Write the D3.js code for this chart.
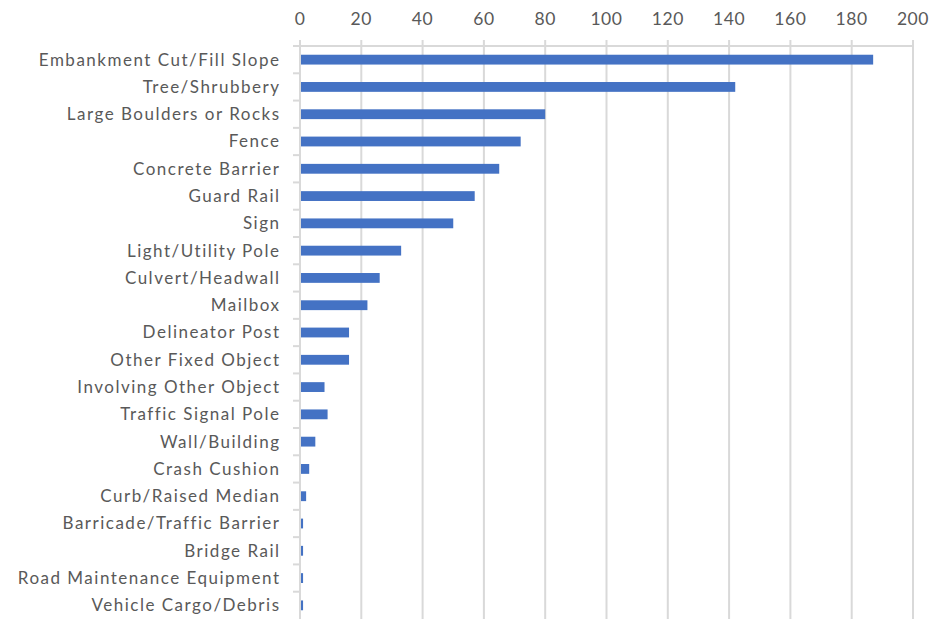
<!DOCTYPE html>
<html>
<head>
<meta charset="utf-8">
<script src="https://cdn.jsdelivr.net/npm/d3@7"></script>
<style>
  body { margin: 0; background: #fff; }
  svg text { font-family: Lato, "Open Sans", sans-serif; fill: #595959; }
</style>
</head>
<body>
<svg id="chart" width="933" height="619"></svg>
<script>
var categories = ['Embankment Cut/Fill Slope', 'Tree/Shrubbery', 'Large Boulders or Rocks',
  'Fence', 'Concrete Barrier', 'Guard Rail', 'Sign', 'Light/Utility Pole', 'Culvert/Headwall',
  'Mailbox', 'Delineator Post', 'Other Fixed Object', 'Involving Other Object',
  'Traffic Signal Pole', 'Wall/Building', 'Crash Cushion', 'Curb/Raised Median',
  'Barricade/Traffic Barrier', 'Bridge Rail', 'Road Maintenance Equipment', 'Vehicle Cargo/Debris']
var values = [187, 142, 80, 72, 65, 57, 50, 33, 26, 22, 16, 16, 8, 9, 5, 3, 2, 1, 1, 1, 1]
var xTicks = [0, 20, 40, 60, 80, 100, 120, 140, 160, 180, 200]

;(function(){
  var svg = d3.select('#chart')

  var x = d3.scaleLinear().domain([0, 200]).range([300, 913])
  var y = d3.scaleBand().domain(categories).range([46, 619]).paddingInner(0).paddingOuter(0)

  // gridlines (drawn from the top tick marks down)
  svg.append('g')
    .selectAll('line')
    .data(xTicks).enter()
    .append('line')
    .attr('x1', d => x(d)).attr('x2', d => x(d))
    .attr('y1', 40).attr('y2', 619)
    .attr('stroke', '#d9d9d9').attr('stroke-width', 2)

  // top value axis line
  svg.append('line')
    .attr('x1', 293).attr('x2', x(200))
    .attr('y1', 46).attr('y2', 46)
    .attr('stroke', '#d9d9d9').attr('stroke-width', 2)

  // category tick marks
  svg.append('g')
    .selectAll('line')
    .data(categories.slice(1)).enter()
    .append('line')
    .attr('x1', 293).attr('x2', 300)
    .attr('y1', d => y(d)).attr('y2', d => y(d))
    .attr('stroke', '#d9d9d9').attr('stroke-width', 2)

  // bars
  svg.append('g')
    .selectAll('rect')
    .data(values).enter()
    .append('rect')
    .attr('x', x(0) + 1)
    .attr('y', (d, i) => y(categories[i]) + y.bandwidth() * 0.32)
    .attr('width', d => x(d) - x(0) - 1)
    .attr('height', y.bandwidth() * 0.36)
    .attr('fill', '#4472c4')

  // x tick labels
  svg.append('g')
    .selectAll('text')
    .data(xTicks).enter()
    .append('text')
    .attr('x', d => x(d))
    .attr('y', 25)
    .attr('text-anchor', 'middle')
    .attr('font-size', '17.5px')
    .attr('letter-spacing', '0.6px')
    .text(d => d)

  // category labels
  svg.append('g')
    .selectAll('text')
    .data(categories).enter()
    .append('text')
    .attr('x', 280.5)
    .attr('y', d => y(d) + y.bandwidth() / 2)
    .attr('dy', '0.35em')
    .attr('text-anchor', 'end')
    .attr('font-size', '17px')
    .attr('letter-spacing', '1.5px')
    .text(d => d)
})()
</script>
</body>
</html>
